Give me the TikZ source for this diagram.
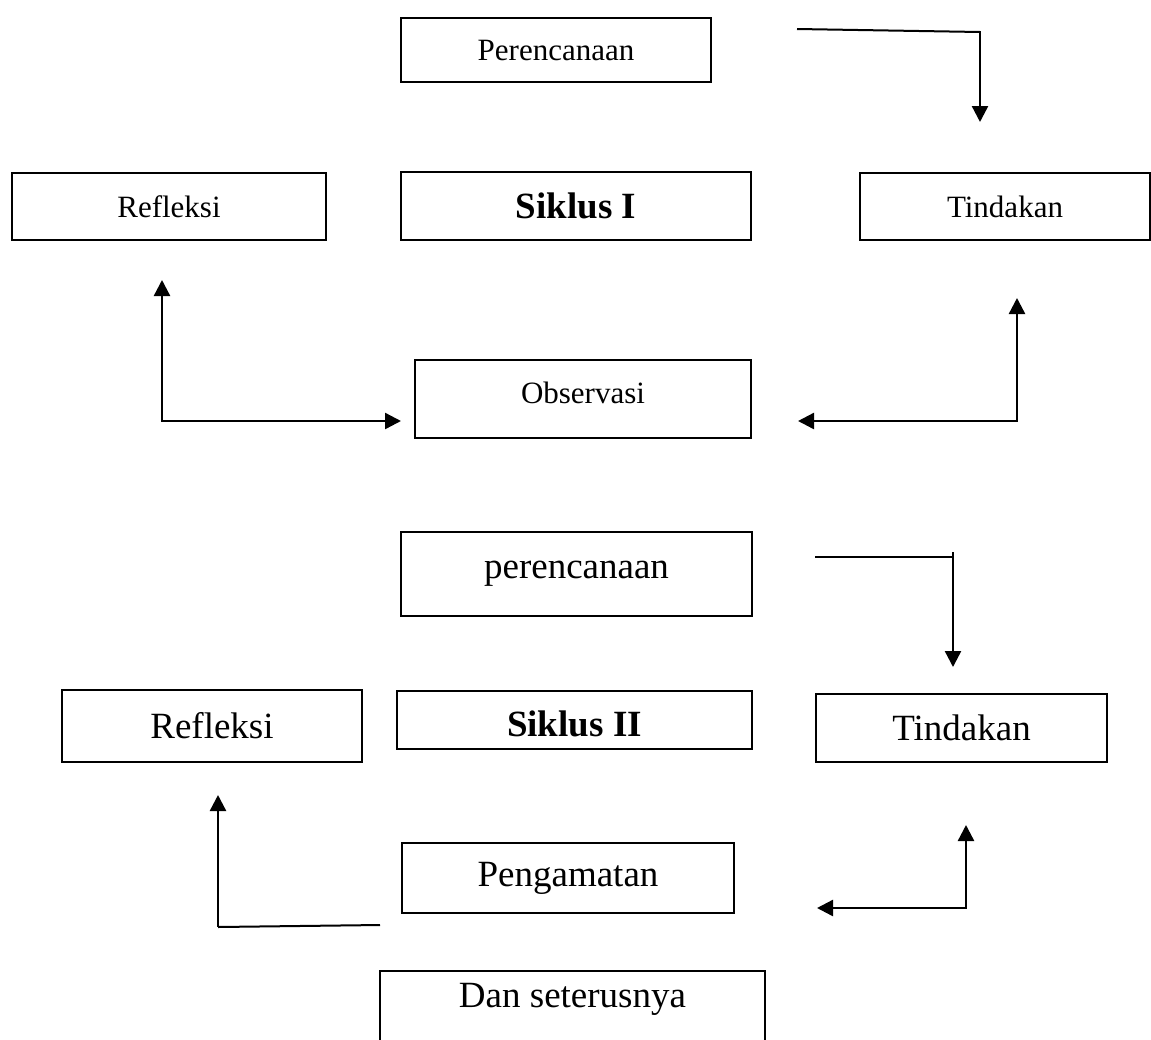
\documentclass[tikz,border=0pt]{standalone}
\usepackage{fontspec}
\setmainfont{Liberation Serif}
\usetikzlibrary{arrows.meta}
\tikzset{
  box/.style={draw=black, line width=1.8pt, inner sep=0pt, fill=white},
  smalltxt/.style={font=\fontsize{31}{37}\selectfont},
  bigtxt/.style={font=\fontsize{37}{44}\selectfont},
  boldtxt/.style={font=\fontsize{37}{44}\selectfont\bfseries},
  conn/.style={line width=2.4pt, line join=miter},
  tip/.style={-{Triangle[length=16pt,width=16pt]}},
  twotip/.style={{Triangle[length=16pt,width=16pt]}-{Triangle[length=16pt,width=16pt]}},
  plain/.style={line width=2pt}
}
\begin{document}
\begin{tikzpicture}[x=1pt,y=-1pt]
\useasboundingbox (0,0) rectangle (1151,1039);
\clip (0,0) rectangle (1151,1039);
\fill[white] (0,0) rectangle (1151,1039);

% ---- Siklus I ----
\node[box, smalltxt, minimum width=310pt, minimum height=64pt] (plan1) at (556,50) {Perencanaan};
\node[box, smalltxt, minimum width=314pt, minimum height=67pt] (refl1) at (169,206.5) {Refleksi};
\node[box, boldtxt, minimum width=350pt, minimum height=68pt] (sik1) at (576,206) {Siklus I};
\node[box, smalltxt, minimum width=290pt, minimum height=67pt] (tind1) at (1005,206.5) {Tindakan};
\node[box, smalltxt, minimum width=336pt, minimum height=78pt,
      text height=21pt, text depth=12pt] (obs1) at (583,399) {Observasi};

\coordinate (a1s) at (797,29);
\coordinate (a1c) at (980,32);
\coordinate (a1e) at (980,122);
\draw[plain] (a1s) -- (a1c);
\draw[conn, tip] (980,31) -- (a1e);

\coordinate (a2t) at (1017,298);
\coordinate (a2c) at (1017,421);
\coordinate (a2e) at (798,421);
\draw[conn, twotip] (a2t) -- (a2c) -- (a2e);

\coordinate (a3t) at (162,280);
\coordinate (a3c) at (162,421);
\coordinate (a3e) at (401,421);
\draw[conn, twotip] (a3t) -- (a3c) -- (a3e);

% ---- Siklus II ----
\node[box, bigtxt, minimum width=351pt, minimum height=84pt] (plan2) at (576.5,574) {perencanaan};
\node[box, bigtxt, minimum width=300pt, minimum height=72pt] (refl2) at (212,726) {Refleksi};
\node[box, boldtxt, minimum width=355pt, minimum height=58pt,
      text height=33pt, text depth=0pt] (sik2) at (574.5,720) {Siklus II};
\node[box, bigtxt, minimum width=291pt, minimum height=68pt] (tind2) at (961.5,728) {Tindakan};
\node[box, bigtxt, minimum width=332pt, minimum height=70pt] (peng) at (568,878) {Pengamatan};
\node[box, bigtxt, anchor=north, minimum width=385pt, minimum height=100pt,
      text height=28pt, text depth=54pt] (dan) at (572.5,970) {Dan seterusnya};

\coordinate (b1s) at (815,557);
\coordinate (b1c) at (953,557);
\coordinate (b1e) at (953,667);
\draw[plain] (b1s) -- (b1c);
\draw[conn, tip] (953,552) -- (b1e);

\coordinate (b2t) at (218,795);
\coordinate (b2c) at (218,927);
\coordinate (b2e) at (380,925);
\draw[conn, tip] (b2c) -- (b2t);
\draw[plain] (b2c) -- (b2e);

\coordinate (b3t) at (966,825);
\coordinate (b3c) at (966,908);
\coordinate (b3e) at (817,908);
\draw[conn, twotip] (b3t) -- (b3c) -- (b3e);
\end{tikzpicture}
\end{document}
